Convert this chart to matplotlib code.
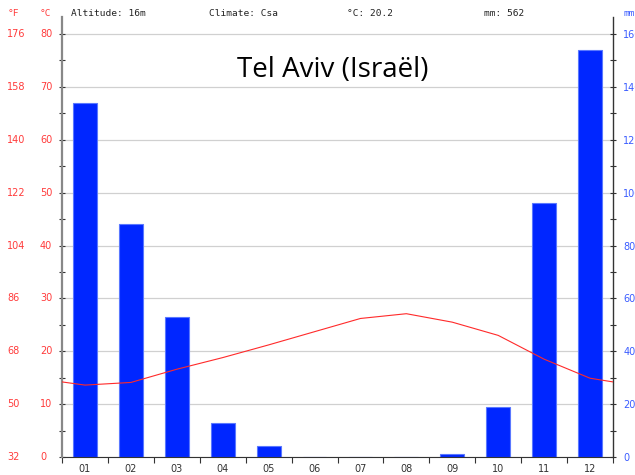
import matplotlib
matplotlib.use("Agg")
from matplotlib import pyplot as plt
from matplotlib.ticker import MultipleLocator, FixedLocator, NullFormatter

# climate data
months = ["01", "02", "03", "04", "05", "06", "07", "08", "09", "10", "11", "12"]
precip_mm = [134, 88, 53, 13, 4, 0, 0, 0, 1, 19, 96, 154]
temp_c = [13.6, 14.1, 16.6, 18.8, 21.2, 23.7, 26.2, 27.1, 25.5, 23.0, 18.5, 14.9]
temp_edge = 14.2  # line value at the left/right border (Dec/Jan)
temp_ticks = [0, 10, 20, 30, 40, 50, 60, 70, 80]
fahr_ticks = [32, 50, 68, 86, 104, 122, 140, 158, 176]
mm_ticks = [0, 20, 40, 60, 80, 100, 120, 140, 160]

RED = "#ff3b3b"
BLUE = "#3a5cff"


def main():
    fig = plt.figure(figsize=(6.35, 4.75), dpi=100)
    W, H = 635, 475
    left, right, top, bottom = 62, 613, 17, 457
    ax_p = fig.add_axes([left / W, (H - bottom) / H, (right - left) / W, (bottom - top) / H])
    ax_t = ax_p.twinx()
    ax_p.set_zorder(0)
    ax_t.set_zorder(1)
    ax_t.patch.set_visible(False)

    x = list(range(1, 13))
    px_per_c = (bottom - 34) / 80
    t_top = (bottom - top) / px_per_c
    ax_t.set_ylim(0, t_top)
    ax_p.set_ylim(0, t_top * 2)
    ax_p.set_xlim(0.5, 12.5)

    # grid behind bars
    for v in mm_ticks:
        ax_p.axhline(v, color="#d0d0d0", lw=0.9, zorder=0)

    ax_p.bar(x, precip_mm, width=0.52, color="#0026ff", edgecolor="#5a78ff",
             linewidth=0.8, zorder=2)

    ax_t.plot([0.5] + x + [12.5], [temp_edge] + temp_c + [temp_edge],
              color="#ff2a2a", lw=0.8, zorder=3)

    # precipitation axis on the right
    for s in ["top", "left"]:
        ax_p.spines[s].set_visible(False)
    ax_p.spines["right"].set_color("#333333")
    ax_p.spines["right"].set_linewidth(1.0)
    ax_p.spines["bottom"].set_color("#333333")
    ax_p.yaxis.tick_right()
    ax_p.set_yticks(mm_ticks)
    ax_p.yaxis.set_minor_locator(MultipleLocator(10))
    ax_p.tick_params(axis="y", which="both", direction="inout", length=5,
                     width=0.8, color="#333333", labelcolor=BLUE, labelsize=7, pad=5)

    # months on the bottom, ticks on month boundaries
    ax_p.set_xticks(x)
    ax_p.set_xticklabels(months)
    ax_p.xaxis.set_minor_locator(FixedLocator([i + 0.5 for i in range(0, 13)]))
    ax_p.xaxis.set_minor_formatter(NullFormatter())
    ax_p.tick_params(axis="x", which="major", length=0, labelsize=7,
                     labelcolor="#333333", pad=5)
    ax_p.tick_params(axis="x", which="minor", direction="out", length=4,
                     width=0.8, color="#333333")

    # temperature axis on the left
    for s in ["top", "right", "bottom"]:
        ax_t.spines[s].set_visible(False)
    ax_t.spines["left"].set_color("#888888")
    ax_t.spines["left"].set_linewidth(1.6)
    ax_t.yaxis.tick_left()
    ax_t.set_yticks(temp_ticks)
    ax_t.set_yticklabels([])
    ax_t.yaxis.set_minor_locator(MultipleLocator(5))
    ax_t.tick_params(axis="y", which="both", direction="inout", length=5,
                     width=0.8, color="#333333")
    ax_t.tick_params(axis="x", which="both", bottom=False, top=False,
                     labelbottom=False, labeltop=False)

    trans = ax_t.get_yaxis_transform()
    x_c = (40 - left) / (right - left)
    x_f = (7 - left) / (right - left)
    for c, f in zip(temp_ticks, fahr_ticks):
        ax_t.text(x_c, c, str(c), transform=trans, color=RED, fontsize=7,
                  ha="left", va="center", clip_on=False)
        ax_t.text(x_f, c, str(f), transform=trans, color=RED, fontsize=7,
                  ha="left", va="center", clip_on=False)

    # header
    mono = "DejaVu Sans Mono"
    y_head = 1 - 14 / H
    fig.text(8 / W, y_head, "°F", color=RED, fontsize=6.8, family=mono, va="center")
    fig.text(40 / W, y_head, "°C", color=RED, fontsize=6.8, family=mono, va="center")
    fig.text(71 / W, y_head, "Altitude: 16m", color="#222222", fontsize=6.8,
             family=mono, va="center")
    fig.text(209 / W, y_head, "Climate: Csa", color="#222222", fontsize=6.8,
             family=mono, va="center")
    fig.text(347 / W, y_head, "°C: 20.2", color="#222222", fontsize=6.8,
             family=mono, va="center")
    fig.text(484 / W, y_head, "mm: 562", color="#222222", fontsize=6.8,
             family=mono, va="center")
    fig.text(623 / W, y_head, "mm", color=BLUE, fontsize=6.8, family=mono, va="center")

    fig.text(333 / W, 1 - 70 / H, "Tel Aviv (Israël)", fontsize=20, family="Open Sans",
             ha="center", va="center", color="black")

    plt.savefig("out.png", dpi=100)


if __name__ == "__main__":
    main()
